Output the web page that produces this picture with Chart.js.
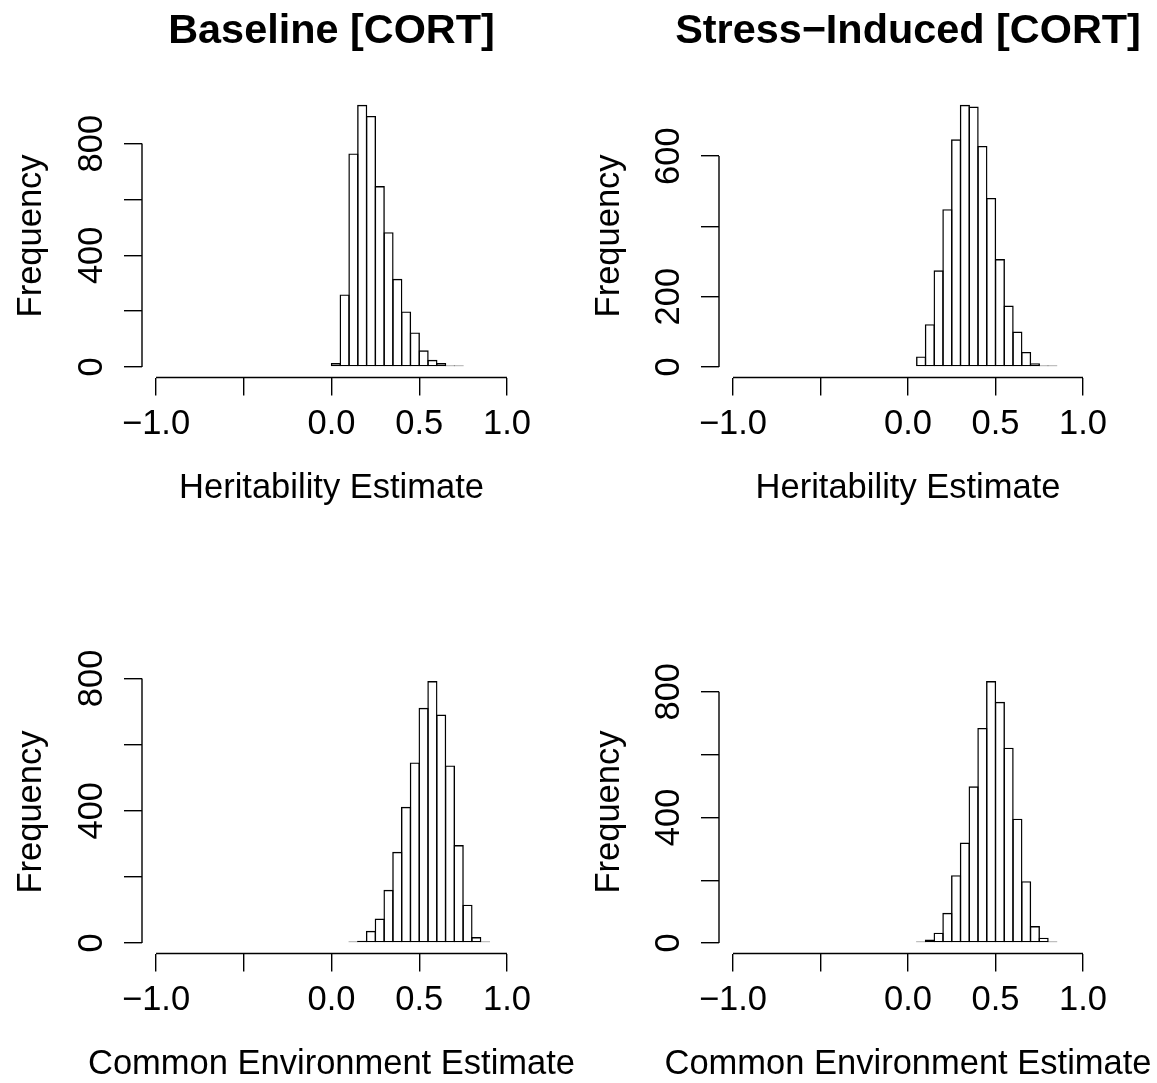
<!DOCTYPE html>
<html>
<head>
<meta charset="utf-8">
<script src="https://cdn.jsdelivr.net/npm/chart.js@4.4.0/dist/chart.umd.min.js"></script>
<style>
  html, body { margin: 0; padding: 0; background: #fff; overflow: hidden; }
  #wrap { position: relative; width: 1157px; height: 1083px; overflow: hidden; }
  canvas { position: absolute; }
</style>
</head>
<body>
<div id="wrap">
  <canvas id="c1" width="663" height="541" style="left:0;top:0"></canvas>
  <canvas id="c2" width="660" height="541" style="left:578px;top:0"></canvas>
  <canvas id="c3" width="663" height="542" style="left:0;top:541px"></canvas>
  <canvas id="c4" width="660" height="542" style="left:578px;top:541px"></canvas>
</div>
<script>
// histogram bins: lower edge of each bin (bin width 0.05) and its count
const binsBaseH   = [0.00,0.05,0.10,0.15,0.20,0.25,0.30,0.35,0.40,0.45,0.50,0.55,0.60,0.65,0.70];
const countsBaseH = [14,260,765,939,899,648,483,316,199,124,60,26,14,5,2];

const binsStressH   = [0.05,0.10,0.15,0.20,0.25,0.30,0.35,0.40,0.45,0.50,0.55,0.60,0.65,0.70,0.75,0.80];
const countsStressH = [30,122,275,449,648,746,741,629,481,307,175,101,43,11,4,2];

const binsBaseC   = [0.10,0.15,0.20,0.25,0.30,0.35,0.40,0.45,0.50,0.55,0.60,0.65,0.70,0.75,0.80,0.85];
const countsBaseC = [4,7,37,74,161,276,412,546,711,792,691,537,296,116,18,1];

const binsStressC   = [0.05,0.10,0.15,0.20,0.25,0.30,0.35,0.40,0.45,0.50,0.55,0.60,0.65,0.70,0.75,0.80];
const countsStressC = [1,11,33,96,216,320,499,685,834,768,622,396,197,54,17,1];

const binWidth = 0.05;

const xTicks = [-1, -0.5, 0, 0.5, 1];
const xTickLabels = ["\u22121.0", "", "0.0", "0.5", "1.0"];

const yTicksBaseH = [0,200,400,600,800];   const yLabelsBaseH = ["0","","400","","800"];
const yTicksStressH = [0,200,400,600];     const yLabelsStressH = ["0","200","","600"];
const yTicksBaseC = [0,200,400,600,800];   const yLabelsBaseC = ["0","","400","","800"];
const yTicksStressC = [0,200,400,600,800]; const yLabelsStressC = ["0","","400","","800"];

Chart.defaults.font.family = "'Liberation Sans', Arial, Helvetica, sans-serif";
Chart.defaults.color = "#000";

const LW = 1.4;
const FS = 34.5;
const X_AXIS_H = 70;

// R style axes: line runs only from first to last tick
const axisLines = {
  id: "axisLines",
  afterDraw(chart){
    const {ctx, chartArea, scales: {x, y}} = chart;
    ctx.save();
    ctx.strokeStyle = "#000";
    ctx.lineWidth = LW;
    ctx.beginPath();
    ctx.moveTo(x.getPixelForValue(x.ticks[0].value), chartArea.bottom);
    ctx.lineTo(x.getPixelForValue(x.ticks[x.ticks.length-1].value), chartArea.bottom);
    ctx.moveTo(chartArea.left, y.getPixelForValue(y.ticks[0].value));
    ctx.lineTo(chartArea.left, y.getPixelForValue(y.ticks[y.ticks.length-1].value));
    ctx.stroke();
    ctx.restore();
  }
};

function panel(id, p){
  const cv = document.getElementById(id);
  const cx = parseFloat(cv.style.left) || 0, cy = parseFloat(cv.style.top) || 0;
  const cw = cv.width, ch = cv.height;
  const M = Math.max(...p.counts);
  const titleH = p.title ? FS*1.2*1.2 : 0;
  const tPadTop = 32 - titleH/2;
  // x label sits below the axis box, centred on the plot
  const subTop = 111 - FS/2 - X_AXIS_H;
  const subBottom = (cy + ch) - (p.plot.bottom + X_AXIS_H + subTop + FS);
  return new Chart(cv, {
    type: "bar",
    data: {
      datasets: [{
        yAxisID: "y",
        data: p.bins.map((b, i) => ({x: b + binWidth/2, y: p.counts[i]})),
        backgroundColor: "rgba(0,0,0,0)",
        borderColor: "#000",
        borderWidth: LW,
        borderSkipped: false,
        barPercentage: 1 + LW/8.8,
        categoryPercentage: 1,
        minBarLength: LW
      }]
    },
    options: {
      responsive: false,
      animation: false,
      layout: { padding: { left: 0, right: 0, top: p.title ? 0 : p.plot.top - cy, bottom: 0 } },
      plugins: {
        legend: { display: false },
        tooltip: { enabled: false },
        title: {
          display: !!p.title,
          text: p.title || "",
          font: { size: FS*1.2, weight: "bold" },
          color: "#000",
          padding: { top: tPadTop, bottom: (p.plot.top - cy) - tPadTop - titleH }
        },
        subtitle: {
          display: true,
          position: "bottom",
          text: p.xlab,
          font: { size: FS, lineHeight: 1, weight: "normal" },
          color: "#000",
          padding: { top: subTop, bottom: subBottom }
        }
      },
      scales: {
        x: {
          type: "linear",
          min: -1.08, max: 1.08,
          offset: false,
          border: { display: false },
          grid: { drawOnChartArea: false, drawTicks: true, tickLength: 18, color: "#000", lineWidth: LW, offset: false },
          afterBuildTicks: s => { s.ticks = xTicks.map(v => ({value: v})); },
          afterFit: s => { s.height = X_AXIS_H; },
          ticks: {
            autoSkip: false, maxRotation: 0, padding: 8,
            font: { size: FS },
            callback: v => xTickLabels[xTicks.indexOf(v)]
          }
        },
        y: {
          type: "linear",
          min: -0.04*M, max: 1.04*M,
          border: { display: false },
          grid: { drawOnChartArea: false, drawTicks: true, tickLength: 18, color: "#000", lineWidth: LW },
          afterBuildTicks: s => { s.ticks = p.yTicks.map(v => ({value: v})); },
          afterFit: s => { s.width = p.plot.left - cx; },
          ticks: {
            autoSkip: false, minRotation: 90, maxRotation: 90,
            crossAlign: "center", padding: 3,
            font: { size: FS },
            callback: v => p.yLabels[p.yTicks.indexOf(v)]
          },
          title: {
            display: true, text: "Frequency",
            font: { size: FS, lineHeight: 1 },
            padding: { top: 14, bottom: 0 }
          }
        },
        // empty right margin so the titles centre over the plot
        yMargin: {
          type: "linear",
          position: "right",
          ticks: { display: false },
          grid: { display: false },
          border: { display: false },
          afterFit: s => { s.width = cw - (p.plot.right - cx); }
        }
      }
    },
    plugins: [axisLines]
  });
}

panel("c1", { bins: binsBaseH, counts: countsBaseH, title: "Baseline [CORT]", xlab: "Heritability Estimate",
  yTicks: yTicksBaseH, yLabels: yLabelsBaseH, plot: {left: 142, right: 521, top: 94.3, bottom: 377.5} });
panel("c2", { bins: binsStressH, counts: countsStressH, title: "Stress\u2212Induced [CORT]", xlab: "Heritability Estimate",
  yTicks: yTicksStressH, yLabels: yLabelsStressH, plot: {left: 719, right: 1097, top: 94.3, bottom: 377.5} });
panel("c3", { bins: binsBaseC, counts: countsBaseC, xlab: "Common Environment Estimate",
  yTicks: yTicksBaseC, yLabels: yLabelsBaseC, plot: {left: 142, right: 521, top: 670.6, bottom: 953.5} });
panel("c4", { bins: binsStressC, counts: countsStressC, xlab: "Common Environment Estimate",
  yTicks: yTicksStressC, yLabels: yLabelsStressC, plot: {left: 719, right: 1097, top: 670.6, bottom: 953.5} });
</script>
</body>
</html>
